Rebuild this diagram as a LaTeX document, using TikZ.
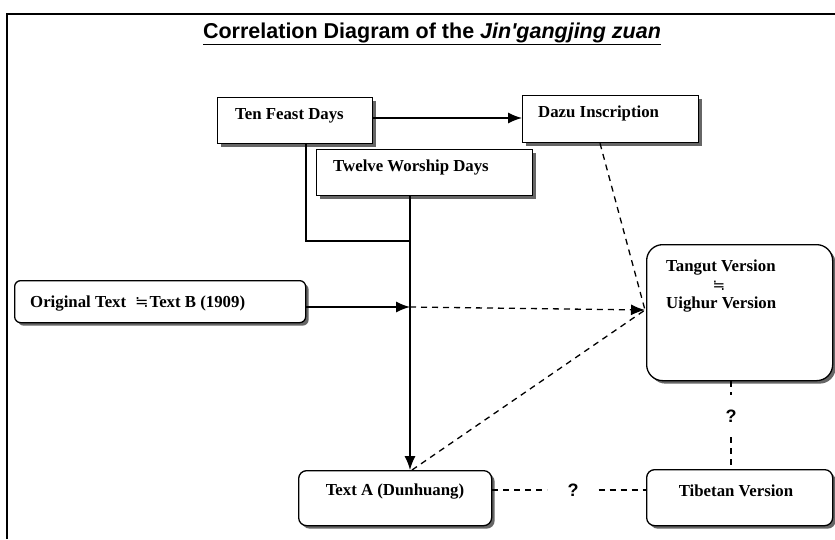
\documentclass[tikz,border=0pt]{standalone}
\usepackage{fontspec}
\setmainfont{Liberation Serif}
\newfontfamily\titlefont{Liberation Sans}
\newfontfamily\symfont{DejaVu Sans}
\usetikzlibrary{arrows.meta,shadows}
\begin{document}
\begin{tikzpicture}[x=1pt,y=-1pt,
  every node/.style={inner sep=0pt},
  sqbox/.style={draw=black,line width=1.3pt,fill=white,anchor=north west,
    drop shadow={shadow xshift=3pt,shadow yshift=-3pt,fill=black!60,opacity=1}},
  rbox/.style={sqbox,rounded corners=#1},
  lbl/.style={font=\fontsize{16.8}{19}\selectfont\bfseries,anchor=west},
  qm/.style={font=\titlefont\fontsize{18}{20}\selectfont\bfseries,inner sep=0pt},
  conn/.style={line width=1.3pt},
  dsh/.style={line width=1.3pt,dash pattern=on 6pt off 5pt},
  arr/.style={-{Latex[length=14pt,width=11pt]}}
]
\useasboundingbox (0,0) rectangle (835,539);
% frame
\draw[line width=2.2pt] (7,539) -- (7,14) -- (835,14);
% title
\node[font=\titlefont\fontsize{21.5}{24}\selectfont\bfseries] (title) at (432,34)
  {\underline{Correlation Diagram of the \textit{Jin'gangjing zuan}}};
% boxes
\node[sqbox,minimum width=155pt,minimum height=46pt] (ten) at (217,97) {};
\node[lbl] (tent) at (235,116) {Ten Feast Days};
\node[sqbox,minimum width=176pt,minimum height=47pt] (dazu) at (522,95) {};
\node[lbl] (dazut) at (538,113) {Dazu Inscription};
\node[sqbox,minimum width=216pt,minimum height=46pt] (twelve) at (316,149) {};
\node[lbl] (twelvet) at (333,167) {Twelve Worship Days};
\node[rbox=6pt,minimum width=291pt,minimum height=42pt] (orig) at (14,280) {};
\node[lbl] (origt) at (30,304) {Original Text\hspace{9pt}{\symfont\mdseries\fontsize{16}{18}\selectfont ≒}\hspace{1pt}Text B (1909)};
\node[rbox=16pt,minimum width=186pt,minimum height=136pt] (tang) at (646,244) {};
\node[lbl] (tangt1) at (666,268) {Tangut Version};
\node[font=\symfont\fontsize{15}{17}\selectfont] (tangeq) at (719,286) {≒};
\node[lbl] (tangt2) at (666,305) {Uighur Version};
\node[rbox=8pt,minimum width=193pt,minimum height=55pt] (texta) at (298,470) {};
\node[lbl,anchor=center] (textat) at (395,492) {Text A (Dunhuang)};
\node[rbox=8pt,minimum width=186pt,minimum height=56pt] (tib) at (646,469) {};
\node[lbl,anchor=center] (tibt) at (736,491) {Tibetan Version};
% question marks
\node[qm,inner ysep=15pt] (q1) at (731,416) {?};
\node[qm,inner xsep=20pt] (q2) at (573,490) {?};
% junction coordinates
\coordinate (j1) at (410,241);
\coordinate (j2) at (410,307);
\coordinate (tip) at (645,310);
% connectors
\draw[conn,arr] (ten.east |- 0,118) -- (dazu.west |- 0,118);
\draw[conn] (ten.south -| 306,0) |- (j1);
\draw[conn,arr] (twelve.south -| j1) -- (texta.north -| j1);
\draw[conn,arr] (orig.east |- j2) -- (j2);
\draw[dsh,arr] (j2) -- (tip);
\draw[dsh] (dazu.south -| 600,0) -- (tip);
\draw[dsh] (texta.north -| 412,0) -- (tip);
\draw[dsh] (tang.south -| q1) -- (q1.north);
\draw[dsh] (q1.south) -- (tib.north -| q1);
\draw[dsh] (texta.east |- q2) -- (q2.west);
\draw[dsh] (q2.east) -- (tib.west |- q2);
\end{tikzpicture}
\end{document}
